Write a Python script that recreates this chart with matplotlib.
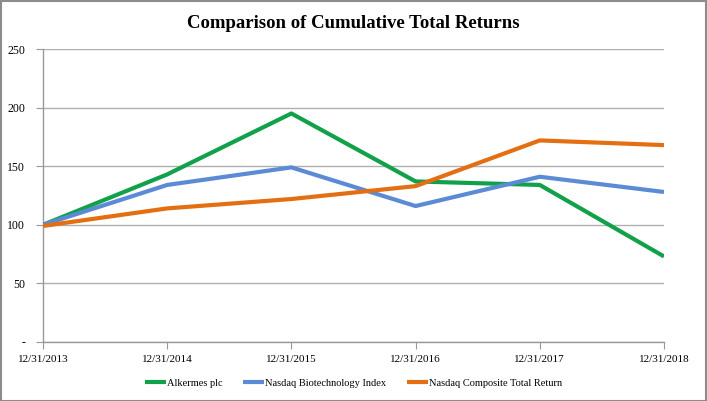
import matplotlib
matplotlib.use("Agg")
import matplotlib.pyplot as plt
from matplotlib.patches import Rectangle

dates = ["12/31/2013", "12/31/2014", "12/31/2015", "12/31/2016", "12/31/2017", "12/31/2018"]
alkermes = [100, 143, 195, 137, 134, 73]
biotech = [100, 134, 149, 116, 141, 128]
composite = [99, 114, 122, 133, 172, 168]
yticks = [0, 50, 100, 150, 200, 250]
ytick_labels = ["-", "50", "100", "150", "200", "250"]

plt.rcParams['font.family'] = ['Liberation Serif', 'DejaVu Serif']

fig = plt.figure(figsize=(7.07, 4.01), dpi=100)
ax = fig.add_axes([43/707, 1 - 342/401, (664-43)/707, (342-49)/401])

x = list(range(len(dates)))
lw = 3.0
ax.plot(x, alkermes, color="#12A14B", lw=lw, label="Alkermes plc", solid_capstyle="butt", zorder=3)
ax.plot(x, biotech, color="#5B8BD5", lw=lw, label="Nasdaq Biotechnology Index", solid_capstyle="butt", zorder=3)
ax.plot(x, composite, color="#E46F12", lw=lw, label="Nasdaq Composite Total Return", solid_capstyle="butt", zorder=4)

ax.set_xlim(0, 5)
ax.set_ylim(0, 250)
ax.set_xticks(x)
ax.set_xticklabels(dates, fontsize=8)
ax.set_yticks(yticks)
ax.set_yticklabels(ytick_labels, fontsize=8.5)
ax.yaxis.grid(True, color="#B0B0B0", lw=1.0)
ax.set_axisbelow(True)
for s in ["top", "right"]:
    ax.spines[s].set_visible(False)
for s in ["left", "bottom"]:
    ax.spines[s].set_color("#999999")
    ax.spines[s].set_linewidth(1.0)
ax.tick_params(axis="x", direction="out", length=5, color="#999999", pad=4)
ax.tick_params(axis="y", direction="out", length=5, color="#999999", pad=8)

fig.text(0.5, 1 - 24/401, "Comparison of Cumulative Total Returns", ha="center", va="center",
         fontsize=13.5, fontweight="bold")

leg = fig.legend(loc="center", bbox_to_anchor=(0.5, 1 - 383/401), ncol=3, frameon=False,
                 fontsize=7.5, handlelength=2.0, handletextpad=0.1, columnspacing=2.0)

fig.patches.append(Rectangle((0.001, 0.001), 0.997, 0.996, transform=fig.transFigure,
                             fill=False, edgecolor="#8C8C8C", lw=1.5))

fig.savefig("out.png", dpi=100)
